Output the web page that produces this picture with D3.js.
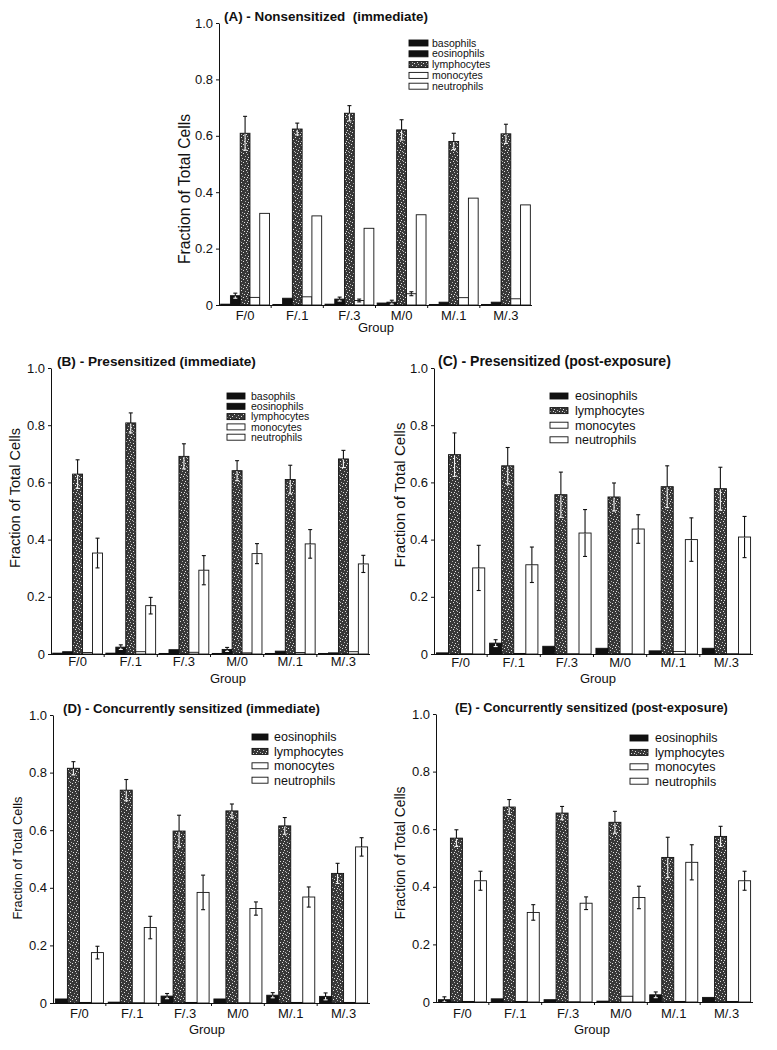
<!DOCTYPE html>
<html><head><meta charset="utf-8">
<script src="https://cdn.jsdelivr.net/npm/d3@7/dist/d3.min.js"></script>
<style>
body{margin:0;background:#fff}
text{font-family:"Liberation Sans",Arial,Helvetica,sans-serif;fill:#111}
</style>
</head><body>
<svg id="chart" width="777" height="1050"></svg>
<script>
// ---------------- DATA ----------------
const groups = ["F/0","F/.1","F/.3","M/0","M/.1","M/.3"];
const yTickValues = [0, 0.2, 0.4, 0.6, 0.8, 1.0];
const yTickLabels = ["0","0.2","0.4","0.6","0.8","1.0"];
const series5 = ["basophils","eosinophils","lymphocytes","monocytes","neutrophils"];
const series4 = ["eosinophils","lymphocytes","monocytes","neutrophils"];

// (A) Nonsensitized (immediate)
const A_basophils       = [0.003,0.002,0.003,0.007,0.002,0.002];
const A_basophils_err   = [0,0,0,0,0,0];
const A_eosinophils     = [0.033,0.024,0.021,0.010,0.010,0.010];
const A_eosinophils_err = [0.009,0,0.007,0.007,0,0];
const A_lymphocytes     = [0.609,0.624,0.680,0.621,0.580,0.607];
const A_lymphocytes_err = [0.060,0.021,0.027,0.036,0.029,0.034];
const A_monocytes       = [0.027,0.029,0.016,0.040,0.026,0.022];
const A_monocytes_err   = [0,0,0.005,0.007,0,0];
const A_neutrophils     = [0.325,0.316,0.272,0.320,0.379,0.355];
const A_neutrophils_err = [0,0,0,0,0,0];

// (B) Presensitized (immediate)
const B_basophils       = [0.003,0.003,0.002,0.002,0.002,0.002];
const B_basophils_err   = [0,0,0,0,0,0];
const B_eosinophils     = [0.008,0.024,0.015,0.016,0.010,0.004];
const B_eosinophils_err = [0,0.008,0,0.007,0,0];
const B_lymphocytes     = [0.629,0.808,0.691,0.641,0.610,0.682];
const B_lymphocytes_err = [0.050,0.035,0.044,0.035,0.050,0.030];
const B_monocytes       = [0.005,0.008,0.006,0.004,0.005,0.008];
const B_monocytes_err   = [0,0,0,0,0,0];
const B_neutrophils     = [0.353,0.169,0.293,0.351,0.385,0.315];
const B_neutrophils_err = [0.052,0.029,0.051,0.035,0.050,0.030];

// (C) Presensitized (post-exposure)
const C_eosinophils     = [0.004,0.038,0.027,0.020,0.011,0.020];
const C_eosinophils_err = [0,0.012,0,0,0,0];
const C_lymphocytes     = [0.697,0.658,0.557,0.549,0.585,0.578];
const C_lymphocytes_err = [0.076,0.064,0.079,0.049,0.073,0.075];
const C_monocytes       = [0.001,0.002,0.001,0.001,0.009,0.001];
const C_monocytes_err   = [0,0,0,0,0,0];
const C_neutrophils     = [0.301,0.312,0.423,0.437,0.400,0.409];
const C_neutrophils_err = [0.079,0.062,0.082,0.050,0.076,0.072];

// (D) Concurrently sensitized (immediate)
const D_eosinophils     = [0.014,0.003,0.024,0.014,0.027,0.023];
const D_eosinophils_err = [0,0,0.009,0,0.009,0.012];
const D_lymphocytes     = [0.815,0.739,0.597,0.667,0.615,0.450];
const D_lymphocytes_err = [0.023,0.037,0.055,0.024,0.029,0.035];
const D_monocytes       = [0.002,0.001,0.002,0.001,0.002,0.002];
const D_monocytes_err   = [0,0,0,0,0,0];
const D_neutrophils     = [0.175,0.262,0.384,0.328,0.368,0.542];
const D_neutrophils_err = [0.022,0.039,0.060,0.023,0.035,0.032];

// (E) Concurrently sensitized (post-exposure)
const E_eosinophils     = [0.008,0.011,0.008,0.003,0.025,0.016];
const E_eosinophils_err = [0.010,0,0,0,0.010,0];
const E_lymphocytes     = [0.569,0.677,0.656,0.624,0.502,0.575];
const E_lymphocytes_err = [0.029,0.026,0.023,0.038,0.070,0.035];
const E_monocytes       = [0.002,0.002,0.001,0.020,0.002,0.002];
const E_monocytes_err   = [0,0,0,0,0,0];
const E_neutrophils     = [0.421,0.311,0.343,0.363,0.485,0.421];
const E_neutrophils_err = [0.033,0.027,0.022,0.039,0.061,0.033];

const titles = {
  A: "(A) - Nonsensitized  (immediate)",
  B: "(B) - Presensitized (immediate)",
  C: "(C) - Presensitized (post-exposure)",
  D: "(D) - Concurrently sensitized (immediate)",
  E: "(E) - Concurrently sensitized (post-exposure)"
};
const yAxisTitle = "Fraction of Total Cells";
const xAxisTitle = "Group";

// ---------------- BUILD ----------------
const panelData = {
  A: {series: series5, values: {basophils:[A_basophils,A_basophils_err], eosinophils:[A_eosinophils,A_eosinophils_err], lymphocytes:[A_lymphocytes,A_lymphocytes_err], monocytes:[A_monocytes,A_monocytes_err], neutrophils:[A_neutrophils,A_neutrophils_err]}},
  B: {series: series5, values: {basophils:[B_basophils,B_basophils_err], eosinophils:[B_eosinophils,B_eosinophils_err], lymphocytes:[B_lymphocytes,B_lymphocytes_err], monocytes:[B_monocytes,B_monocytes_err], neutrophils:[B_neutrophils,B_neutrophils_err]}},
  C: {series: series4, values: {eosinophils:[C_eosinophils,C_eosinophils_err], lymphocytes:[C_lymphocytes,C_lymphocytes_err], monocytes:[C_monocytes,C_monocytes_err], neutrophils:[C_neutrophils,C_neutrophils_err]}},
  D: {series: series4, values: {eosinophils:[D_eosinophils,D_eosinophils_err], lymphocytes:[D_lymphocytes,D_lymphocytes_err], monocytes:[D_monocytes,D_monocytes_err], neutrophils:[D_neutrophils,D_neutrophils_err]}},
  E: {series: series4, values: {eosinophils:[E_eosinophils,E_eosinophils_err], lymphocytes:[E_lymphocytes,E_lymphocytes_err], monocytes:[E_monocytes,E_monocytes_err], neutrophils:[E_neutrophils,E_neutrophils_err]}}
};

// layout (positions only): leg = [swatchX, firstRowY, rowStep, swatchW, textX, fontSize]
const layout = {
  A: {x0:219, x1:532, yTop:23, yBot:305, title:[224,21,204], ylab:[185,189,150], leg:[409,43,10.8,19,432,10.5], xlabY:320, grp:[376,332]},
  B: {x0:51, x1:370, yTop:368, yBot:654, title:[57,366,199], ylab:[15,498,140], leg:[227,396,10.3,18,251,10.5], xlabY:666, grp:[228,683]},
  C: {x0:434, x1:753, yTop:368, yBot:654, title:[438,366,233], ylab:[400,495,145], leg:[550,396,14.6,18,575,12.5], xlabY:667, grp:[598,683]},
  D: {x0:53, x1:370, yTop:715, yBot:1003, title:[63,713,257], ylab:[17,858,123], leg:[252,737,14.4,16,274,12.5], xlabY:1018, grp:[207,1034]},
  E: {x0:436, x1:753, yTop:714, yBot:1002, title:[455,712,273], ylab:[400,853,133], leg:[630,738,14.4,18,655,12.5], xlabY:1018, grp:[592,1034]}
};

const svg = d3.select("#chart");
const defs = svg.append("defs");
// speckled texture for lymphocytes
const pat = defs.append("pattern").attr("id","speckle").attr("patternUnits","userSpaceOnUse")
  .attr("width",9).attr("height",9);
pat.append("rect").attr("width",9).attr("height",9).attr("fill","#383838");
const dots = [[0,0],[4,1],[7,2],[2,3],[5,4],[8,5],[1,6],[6,7],[3,8],[7,8],[4,6]];
dots.forEach(([dx,dy],i)=>pat.append("rect").attr("x",dx).attr("y",dy).attr("width",1).attr("height",1)
  .attr("fill", i%2? "#b5b5b5":"#e2e2e2"));

const fillFor = s => (s==="basophils"||s==="eosinophils") ? "#111" : s==="lymphocytes" ? "url(#speckle)" : "#fff";

function fitText(sel, target){
  const len = sel.node().getComputedTextLength();
  const fs = parseFloat(sel.attr("font-size"));
  sel.attr("font-size", (fs*target/len).toFixed(2));
}

Object.keys(layout).forEach(key => {
  const L = layout[key], P = panelData[key];
  const g = svg.append("g");
  const y = d3.scaleLinear().domain([0,1]).range([L.yBot, L.yTop]);
  const x = d3.scaleBand().domain(groups).range([L.x0, L.x1]).paddingInner(0).paddingOuter(0);
  const nS = P.series.length;
  const xs = d3.scaleBand().domain(P.series).range([0, x.bandwidth()]).paddingInner(0).paddingOuter(nS===5?0.17:0.2);

  // bars
  P.series.forEach(s => {
    const [vals, errs] = P.values[s];
    const bars = g.append("g");
    groups.forEach((grp,i) => {
      const v = vals[i];
      const bx = x(grp)+xs(s), bw = xs.bandwidth();
      bars.append("rect").attr("x",bx).attr("y",y(v)).attr("width",bw).attr("height",Math.max(0,y(0)-y(v)))
        .attr("fill",fillFor(s)).attr("stroke","#111").attr("stroke-width",0.9);
      const e = errs[i];
      if (e > 0){
        const cx = bx + bw/2;
        const dark = fillFor(s) !== "#fff";
        bars.append("line").attr("x1",cx).attr("x2",cx).attr("y1",y(v)).attr("y2",y(v+e)).attr("stroke","#111").attr("stroke-width",1.1);
        bars.append("line").attr("x1",cx-2).attr("x2",cx+2).attr("y1",y(v+e)).attr("y2",y(v+e)).attr("stroke","#111").attr("stroke-width",1.1);
        const lo = Math.max(0, v-e);
        const c = dark ? "#f4f4f4" : "#111";
        bars.append("line").attr("x1",cx).attr("x2",cx).attr("y1",y(v)+0.6).attr("y2",y(lo)).attr("stroke",c).attr("stroke-width",1.1);
        bars.append("line").attr("x1",cx-2).attr("x2",cx+2).attr("y1",y(lo)).attr("y2",y(lo)).attr("stroke",c).attr("stroke-width",1.1);
      }
    });
  });

  // y axis
  const yAxis = d3.axisLeft(y).tickValues(yTickValues).tickFormat((d,i)=>yTickLabels[i]).tickSize(3).tickSizeOuter(0).tickPadding(3);
  const ya = g.append("g").attr("transform",`translate(${L.x0},0)`).call(yAxis);
  ya.selectAll("text").attr("font-size",13).style("font-family","'Liberation Sans',Arial,sans-serif").attr("fill","#111");
  ya.selectAll("line,path").attr("stroke","#111");

  // x axis line with boundary ticks
  g.append("line").attr("x1",L.x0).attr("x2",L.x1).attr("y1",L.yBot+0.5).attr("y2",L.yBot+0.5).attr("stroke","#111").attr("stroke-width",1.1);
  groups.slice(1).forEach(grp=>{
    g.append("line").attr("x1",x(grp)).attr("x2",x(grp)).attr("y1",L.yBot).attr("y2",L.yBot+3).attr("stroke","#111");
  });
  groups.forEach(grp=>{
    g.append("text").attr("x",x(grp)+x.bandwidth()/2).attr("y",L.xlabY).attr("text-anchor","middle")
      .attr("font-size",13).text(grp);
  });
  g.append("text").attr("x",L.grp[0]).attr("y",L.grp[1]).attr("text-anchor","middle").attr("font-size",13).text(xAxisTitle);

  // y axis title
  const yl = g.append("text").attr("transform",`translate(${L.ylab[0]},${L.ylab[1]}) rotate(-90)`)
    .attr("text-anchor","middle").attr("dy","0.35em").attr("font-size",13).text(yAxisTitle);
  fitText(yl, L.ylab[2]);

  // title
  const t = g.append("text").attr("x",L.title[0]).attr("y",L.title[1]).attr("font-size",12.5).attr("font-weight","bold").style("white-space","pre").text(titles[key]);
  fitText(t, L.title[2]);

  // legend
  const [lx, ly, ldy, lsw, ltx, lfs] = L.leg;
  P.series.forEach((s,i)=>{
    const cy = ly + i*ldy;
    g.append("rect").attr("x",lx).attr("y",cy-3).attr("width",lsw).attr("height",6)
      .attr("fill",fillFor(s)).attr("stroke","#111").attr("stroke-width",0.9);
    g.append("text").attr("x",ltx).attr("y",cy).attr("dy","0.35em").attr("font-size",lfs).text(s);
  });
});
</script>
</body></html>
